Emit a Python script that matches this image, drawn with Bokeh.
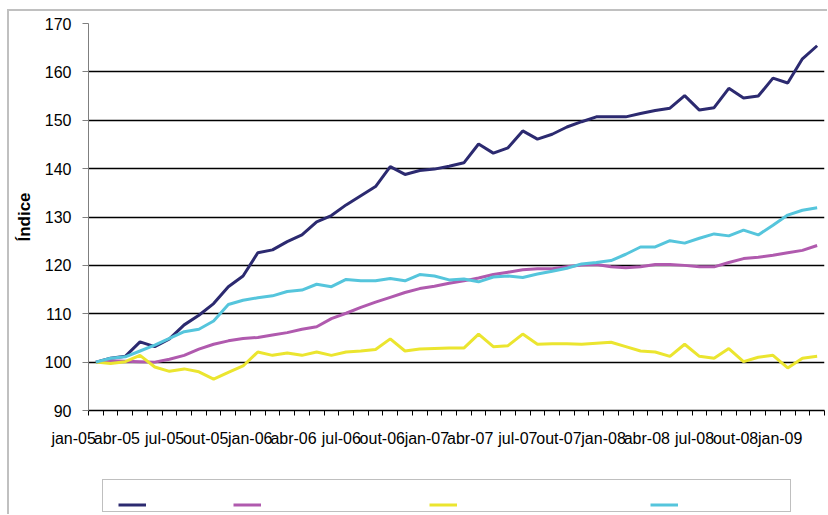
from bokeh.plotting import figure
from bokeh.layouts import column
from bokeh.models import FixedTicker, Legend, LegendItem, ColumnDataSource, Range1d
from bokeh.embed import file_html
from bokeh.resources import INLINE
from bokeh.core.properties import value

# monthly index, jan-05 .. feb-09 (50 months)
tick_labels = ["jan-05", "abr-05", "jul-05", "out-05", "jan-06", "abr-06", "jul-06",
               "out-06", "jan-07", "abr-07", "jul-07", "out-07", "jan-08", "abr-08",
               "jul-08", "out-08", "jan-09"]

serie_azul = [100.0, 100.8, 101.2, 104.2, 103.2, 104.8, 107.7, 109.7, 112.1, 115.6,
              117.8, 122.6, 123.2, 124.9, 126.3, 129.0, 130.3, 132.5, 134.4, 136.3,
              140.4, 138.8, 139.6, 139.9, 140.5, 141.2, 145.1, 143.2, 144.3, 147.8,
              146.1, 147.1, 148.6, 149.7, 150.7, 150.7, 150.7, 151.4, 152.0, 152.5,
              155.1, 152.1, 152.6, 156.6, 154.6, 155.0, 158.7, 157.7, 162.7, 165.4]

serie_roxa = [100.0, 100.3, 100.2, 100.1, 100.0, 100.6, 101.4, 102.7, 103.7, 104.4,
              104.9, 105.1, 105.6, 106.1, 106.8, 107.3, 109.0, 110.1, 111.3, 112.4,
              113.4, 114.4, 115.2, 115.7, 116.3, 116.8, 117.4, 118.1, 118.6, 119.1,
              119.3, 119.3, 119.7, 120.1, 120.2, 119.7, 119.5, 119.7, 120.2, 120.2,
              120.0, 119.7, 119.7, 120.6, 121.4, 121.7, 122.1, 122.6, 123.1, 124.1]

serie_amarela = [100.0, 99.7, 100.1, 101.4, 99.0, 98.1, 98.6, 98.0, 96.5, 97.9,
                 99.2, 102.1, 101.4, 101.9, 101.4, 102.1, 101.4, 102.1, 102.3, 102.6,
                 104.8, 102.3, 102.7, 102.8, 102.9, 102.9, 105.8, 103.2, 103.4, 105.8,
                 103.7, 103.8, 103.8, 103.7, 103.9, 104.1, 103.2, 102.3, 102.1, 101.2,
                 103.7, 101.2, 100.8, 102.8, 100.1, 101.0, 101.4, 98.8, 100.8, 101.2]

serie_ciano = [100.0, 100.8, 101.1, 102.3, 103.5, 104.9, 106.3, 106.8, 108.5, 111.9,
               112.8, 113.3, 113.7, 114.6, 114.9, 116.1, 115.6, 117.1, 116.8, 116.8,
               117.3, 116.8, 118.1, 117.8, 117.0, 117.2, 116.6, 117.6, 117.8, 117.5,
               118.2, 118.8, 119.4, 120.3, 120.6, 121.0, 122.3, 123.8, 123.8, 125.1,
               124.6, 125.6, 126.5, 126.1, 127.3, 126.3, 128.3, 130.4, 131.4, 131.9]

n = len(serie_azul)
src = ColumnDataSource(dict(x=list(range(n)), azul=serie_azul, roxa=serie_roxa,
                            amarela=serie_amarela, ciano=serie_ciano))
keys = ["azul", "roxa", "amarela", "ciano"]
cores = {"azul": "#2c2a70", "roxa": "#b05aae", "amarela": "#ebe52f", "ciano": "#55c5dc"}

FONT = "Liberation Sans"

p = figure(width=818, height=465, output_backend="svg", toolbar_location=None,
           x_range=Range1d(-0.5, n - 0.5), y_range=Range1d(90, 170),
           min_border_left=79, min_border_right=3, min_border_top=12,
           min_border_bottom=66, background_fill_color="white",
           border_fill_color="white")
p.outline_line_color = None

# y axis
p.yaxis.ticker = FixedTicker(ticks=list(range(90, 171, 10)))
p.yaxis.axis_label = "Índice"
p.yaxis.axis_label_text_font = FONT
p.yaxis.axis_label_text_font_style = "bold"
p.yaxis.axis_label_text_font_size = "17px"
p.yaxis.axis_label_text_color = "black"
p.yaxis.axis_label_standoff = 8
p.yaxis.major_label_text_font = FONT
p.yaxis.major_label_text_font_size = "16px"
p.yaxis.major_label_text_color = "black"
p.yaxis.major_label_standoff = 11
p.yaxis.major_tick_out = 6
p.yaxis.major_tick_in = 0
p.yaxis.minor_tick_out = 0
p.yaxis.minor_tick_in = 0
p.yaxis.axis_line_color = "#7f7f7f"
p.yaxis.major_tick_line_color = "#7f7f7f"
p.ygrid.grid_line_color = "black"
p.ygrid.grid_line_width = 1.3
p.xgrid.grid_line_color = None

# x axis: labels every 3 months, tick marks between months
p.xaxis.ticker = FixedTicker(ticks=list(range(0, n, 3)),
                             minor_ticks=[i - 0.5 for i in range(n + 1)])
p.xaxis.major_label_overrides = {3 * i: lab for i, lab in enumerate(tick_labels)}
p.xaxis.major_label_text_font = FONT
p.xaxis.major_label_text_font_size = "16px"
p.xaxis.major_label_text_color = "black"
p.xaxis.major_label_orientation = 0.0001
p.xaxis.major_label_standoff = 23
p.xaxis.major_tick_out = 0
p.xaxis.major_tick_in = 0
p.xaxis.minor_tick_out = 5
p.xaxis.minor_tick_in = 0
p.xaxis.minor_tick_line_color = "black"
p.xaxis.axis_line_color = "black"
p.xaxis.axis_line_width = 1.3

for key in keys:
    p.line("x", key, source=src, line_width=3, line_color=cores[key])

# legend strip below the chart (its lines lie outside its visible range)
q = figure(width=818, height=38, output_backend="svg", toolbar_location=None,
           x_range=Range1d(-0.5, n - 0.5), y_range=Range1d(0, 1),
           min_border_left=0, min_border_right=0, min_border_top=0,
           min_border_bottom=0, background_fill_color="white",
           border_fill_color="white")
q.axis.visible = False
q.grid.visible = False
q.outline_line_color = None
q_rends = [q.line("x", key, source=src, line_width=3, line_color=cores[key]) for key in keys]

# legend frame
box = Legend(items=[LegendItem(label=value(""), renderers=[q_rends[0]])],
             location=(14, 2), glyph_width=0, glyph_height=31, label_width=687,
             label_height=31, label_standoff=0, spacing=0, padding=0, margin=0,
             label_text_font_size="6px",
             border_line_color="#7f7f7f", border_line_width=1.5,
             background_fill_color="white", background_fill_alpha=1)
q.add_layout(box)

# one legend entry per series, at its own place in the frame
entry_x = [30, 145, 341, 562]
for r, ex in zip(q_rends, entry_x):
    lg = Legend(items=[LegendItem(label=value(""), renderers=[r])],
                location=(ex, 5), glyph_width=28, glyph_height=9, label_width=0,
                label_height=9, label_standoff=0, spacing=0, padding=0, margin=0,
                label_text_font_size="6px", border_line_color=None,
                background_fill_alpha=0)
    q.add_layout(lg)

layout = column(p, q, spacing=0, margin=(9, 0, 0, 7),
                styles={"border-left": "2px solid #c0c0c0", "border-top": "2px solid #c0c0c0"})

open("out.html", "w").write(file_html(layout, INLINE))
